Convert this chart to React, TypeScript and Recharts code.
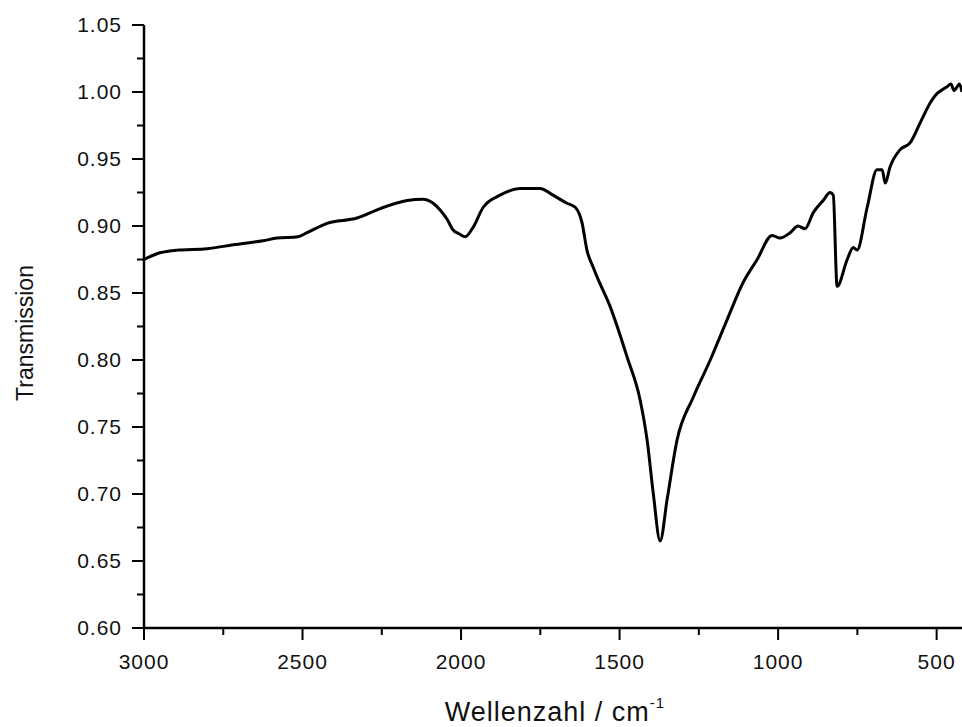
import { LineChart, Line, XAxis, YAxis, Label } from 'recharts'

// IR spectrum, wavenumber (cm^-1) against transmission
const wavenumbers = [
  3000, 2950, 2896, 2801, 2719, 2625, 2580, 2514, 2486, 2423, 2328, 2255, 2170, 2120,
  2088, 2066, 2044, 2025, 2005, 1987, 1962, 1930, 1877, 1814, 1751, 1710, 1666, 1640,
  1618, 1603, 1583, 1571, 1530, 1476, 1435, 1413, 1394, 1372, 1350, 1319, 1268, 1214,
  1161, 1110, 1066, 1019, 994, 962, 937, 915, 889, 858, 836, 826, 814, 782, 763, 751,
  719, 688, 672, 662, 647, 615, 584, 552, 520, 498, 480, 467, 455, 445, 435, 428, 420,
]
const transmission = [
  0.875, 0.88, 0.882, 0.883, 0.886, 0.889, 0.891, 0.892, 0.895, 0.902, 0.906, 0.913, 0.919, 0.92,
  0.917, 0.912, 0.905, 0.897, 0.894, 0.892, 0.899, 0.914, 0.923, 0.928, 0.928, 0.923, 0.917, 0.914,
  0.902, 0.882, 0.869, 0.862, 0.84, 0.802, 0.77, 0.74, 0.701, 0.665, 0.696, 0.74, 0.772, 0.8,
  0.83, 0.858, 0.875, 0.893, 0.891, 0.895, 0.9, 0.898, 0.91, 0.919, 0.925, 0.923, 0.855, 0.875, 0.884, 0.882,
  0.914, 0.942, 0.942, 0.932, 0.944, 0.957, 0.962, 0.977, 0.992, 0.999, 1.002, 1.004, 1.006, 1.001, 1.004, 1.006, 1.0,
]

// major + minor tick values
const xTicks = [500, 750, 1000, 1250, 1500, 1750, 2000, 2250, 2500, 2750, 3000]
const yTicks = [0.6, 0.625, 0.65, 0.675, 0.7, 0.725, 0.75, 0.775, 0.8, 0.825, 0.85, 0.875, 0.9, 0.925, 0.95, 0.975, 1.0, 1.025, 1.05]

const data = wavenumbers.map((wn, i) => ({ wn, t: transmission[i] }))

const FONT = '"Liberation Sans", Arial, sans-serif'

function XTick({ x, y, payload }: any) {
  const major = payload.value % 500 === 0
  return (
    <g>
      <line x1={x} y1={y} x2={x} y2={y + (major ? 12 : 7)} stroke="#000" strokeWidth={2} />
      {major && (
        <text x={x} y={y + 41} textAnchor="middle" fontSize={21} letterSpacing={1} fill="#111" fontFamily={FONT}>
          {payload.value}
        </text>
      )}
    </g>
  )
}

function YTick({ x, y, payload }: any) {
  const major = Math.round(payload.value * 1000) % 50 === 0
  return (
    <g>
      <line x1={x - (major ? 12 : 7)} y1={y} x2={x} y2={y} stroke="#000" strokeWidth={2} />
      {major && (
        <text x={x - 22} y={y + 7} textAnchor="end" fontSize={21} letterSpacing={1} fill="#111" fontFamily={FONT}>
          {payload.value.toFixed(2)}
        </text>
      )}
    </g>
  )
}

export default function App() {
  return (
    <div style={{ position: 'absolute', left: 0, top: 0, width: 962, height: 727, background: '#fff' }}>
      <LineChart width={962} height={727} data={data} margin={{ top: 25, right: 0, bottom: 0, left: 0 }}>
        <XAxis
          dataKey="wn"
          type="number"
          domain={[420, 3000]}
          reversed
          ticks={xTicks}
          interval={0}
          height={99}
          tickSize={0}
          tickMargin={0}
          tickLine={false}
          tick={<XTick />}
          axisLine={{ stroke: '#000', strokeWidth: 2.5 }}
        >
          <Label
            content={() => (
              <text x={555} y={721} textAnchor="middle" fontSize={27} letterSpacing={1} fill="#111" fontFamily={FONT}>
                Wellenzahl / cm
                <tspan fontSize={15} dy={-13}>-1</tspan>
              </text>
            )}
          />
        </XAxis>
        <YAxis
          type="number"
          domain={[0.6, 1.05]}
          ticks={yTicks}
          interval={0}
          width={144}
          tickSize={0}
          tickMargin={0}
          tickLine={false}
          tick={<YTick />}
          axisLine={{ stroke: '#000', strokeWidth: 2.5 }}
        >
          <Label
            content={() => (
              <text
                x={33}
                y={333}
                transform="rotate(-90, 33, 333)"
                textAnchor="middle"
                fontSize={23}
                fill="#111"
                fontFamily={FONT}
              >
                Transmission
              </text>
            )}
          />
        </YAxis>
        <Line
          type="monotone"
          dataKey="t"
          stroke="#000"
          strokeWidth={3}
          dot={false}
          isAnimationActive={false}
        />
      </LineChart>
    </div>
  )
}
